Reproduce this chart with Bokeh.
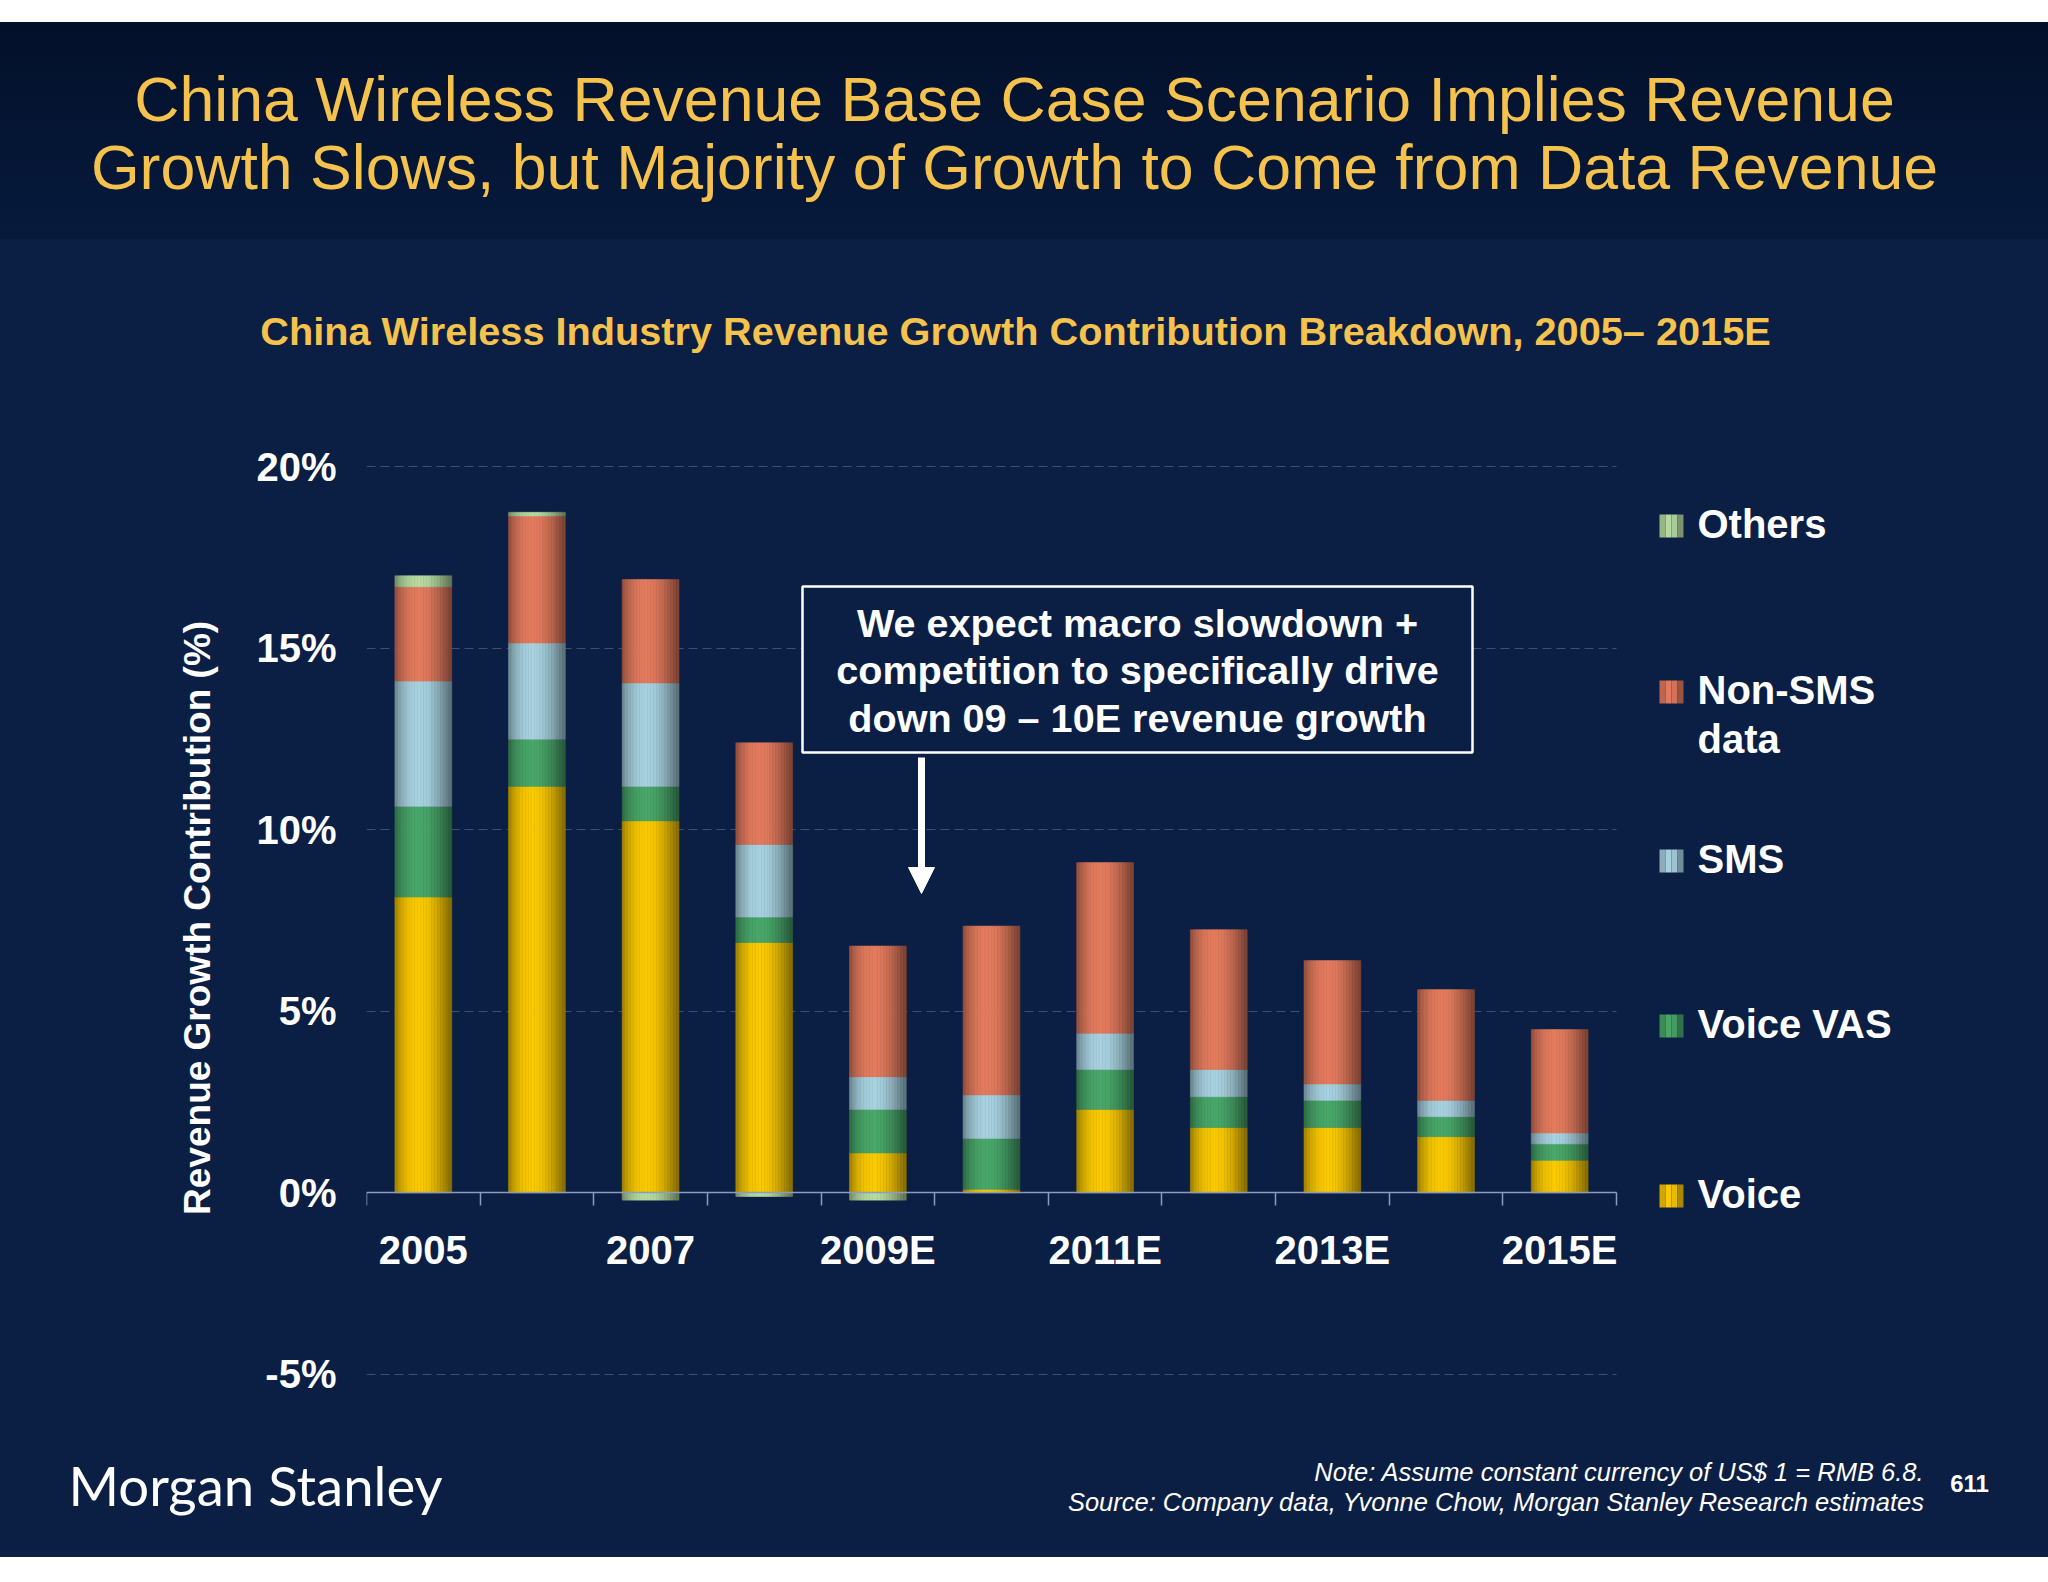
import numpy as np
from bokeh.plotting import figure
from bokeh.models import Range1d, FixedTicker, Label, BoxAnnotation, Arrow, NormalHead
from bokeh.embed import file_html
from bokeh.resources import INLINE

# ---------------- data ----------------
categories = ["2005", "2006", "2007", "2008", "2009E", "2010E",
              "2011E", "2012E", "2013E", "2014E", "2015E"]
voice     = [8.15, 11.2, 10.25, 6.9, 1.1, 0.1, 2.3, 1.8, 1.8, 1.55, 0.9]
voice_vas = [2.5, 1.3, 0.95, 0.7, 1.2, 1.4, 1.1, 0.85, 0.75, 0.55, 0.45]
sms       = [3.45, 2.65, 2.85, 2.0, 0.9, 1.2, 1.0, 0.75, 0.45, 0.45, 0.3]
non_sms   = [2.6, 3.5, 2.85, 2.8, 3.6, 4.65, 4.7, 3.85, 3.4, 3.05, 2.85]
others    = [0.3, 0.1, -0.2, -0.1, -0.2, 0.0, 0.0, 0.0, 0.0, 0.0, 0.0]

series_labels = ["Voice", "Voice VAS", "SMS", "Non-SMS\ndata", "Others"]
y_ticks = [-5, 0, 5, 10, 15, 20]

title_lines = ["China Wireless Revenue Base Case Scenario Implies Revenue",
               "Growth Slows, but Majority of Growth to Come from Data Revenue"]
subtitle = "China Wireless Industry Revenue Growth Contribution Breakdown, 2005\u2013 2015E"
y_label = "Revenue Growth Contribution (%)"
callout_lines = ["We expect macro slowdown +",
                 "competition to specifically drive",
                 "down 09 \u2013 10E revenue growth"]
note_lines = ["Note: Assume constant currency of US$ 1 = RMB 6.8.",
              "Source: Company data, Yvonne Chow, Morgan Stanley Research estimates"]
logo_text = "Morgan Stanley"
page_no = "611"

# ---------------- style ----------------
FONT = "Liberation Sans"
GOLD = "#f4c24d"
BG = "#0b1e44"
AXIS_C = "#8c9cbc"
GRID_C = "#3c4e74"
colors = ["#fccb00", "#4aa86a", "#a9d3e1", "#e57c5e", "#b7dca2"]

SHADE_T = [0.0, 0.1, 0.25, 0.42, 0.58, 0.75, 0.9, 1.0]
SHADE_F = [0.62, 0.8, 0.95, 1.0, 0.96, 0.82, 0.64, 0.52]


def shade(hex_color, f):
    rgb = [int(hex_color[i:i + 2], 16) for i in (1, 3, 5)]
    return "#%02x%02x%02x" % tuple(min(255, int(round(c * f))) for c in rgb)


W = 2048
H = 1582
BL, BT = 366, 412
PLOT_W = 1250           # width of the category area (0 .. n)
FH = 980
BB = H - BT - FH
Y0, Y1 = -5.5, 21.5
n = len(categories)
XS = PLOT_W / n
YS = FH / (Y1 - Y0)
X_END = (W - BL) / XS
BASE_SHIFT = 0.345      # label baseline correction, in em


def px_x(page_x):
    return (page_x - BL) / XS


def px_y(page_y):
    return Y1 - (page_y - BT) / YS


def text_y(baseline, fs):
    return px_y(baseline - BASE_SHIFT * fs)


p = figure(width=W, height=H, x_range=Range1d(0, X_END), y_range=Range1d(Y0, Y1),
           min_border_left=BL, min_border_right=0, min_border_top=BT,
           min_border_bottom=BB, toolbar_location=None, output_backend="svg",
           background_fill_color=BG, border_fill_color=None, outline_line_color=None,
           title=None)
p.styles = {"background": "linear-gradient(to bottom, #ffffff 0px, #ffffff 22px, "
                          "#03102a 22px, #071a3c 239px, #0b1e44 239px, #0b1e44 1557px, "
                          "#ffffff 1557px, #ffffff 1582px)"}

# ---------------- bars (cylinder shading built from thin strips) ----------------
x_center = np.arange(n) + 0.5
BW = 0.5
NS = 20
series = [np.array(voice), np.array(voice_vas), np.array(sms), np.array(non_sms),
          np.clip(np.array(others), 0, None)]
bottom = np.zeros(n)
segments = []
for vals, col in zip(series, colors):
    top = bottom + vals
    segments.append((bottom.copy(), top.copy(), col))
    bottom = top
neg = np.clip(np.array(others), None, 0)
segments.append((neg, np.zeros(n), colors[4]))

for b, t, col in segments:
    mask = np.abs(t - b) > 1e-9
    if not mask.any():
        continue
    for k in range(NS):
        frac = (k + 0.5) / NS
        c = shade(col, float(np.interp(frac, SHADE_T, SHADE_F)))
        xk = x_center[mask] - BW / 2 + (k + 0.5) * BW / NS
        p.vbar(x=xk, width=BW / NS, bottom=b[mask], top=t[mask],
               fill_color=c, line_color=c, line_width=0.6)

# ---------------- axes ----------------
xa = p.xaxis[0]
major = [i + 0.5 for i in range(0, n, 2)]
xa.ticker = FixedTicker(ticks=major, minor_ticks=list(range(n + 1)))
xa.major_label_overrides = {i + 0.5: categories[i] for i in range(0, n, 2)}
xa.fixed_location = 0
xa.bounds = (0, n)
xa.axis_line_color = AXIS_C
xa.axis_line_width = 1.5
xa.major_tick_line_color = None
xa.major_tick_out = 0
xa.major_tick_in = 0
xa.minor_tick_line_color = AXIS_C
xa.minor_tick_line_width = 1.5
xa.minor_tick_out = 13
xa.minor_tick_in = 0
xa.major_label_standoff = 22
xa.major_label_text_font = FONT
xa.major_label_text_font_size = "40px"
xa.major_label_text_font_style = "bold"
xa.major_label_text_color = "white"

ya = p.yaxis[0]
ya.ticker = FixedTicker(ticks=y_ticks, minor_ticks=[])
ya.major_label_overrides = {t: f"{t}%" for t in y_ticks}
ya.axis_line_color = None
ya.major_tick_line_color = None
ya.minor_tick_line_color = None
ya.major_tick_out = 0
ya.major_tick_in = 0
ya.major_label_standoff = 30
ya.major_label_text_font = FONT
ya.major_label_text_font_size = "40px"
ya.major_label_text_font_style = "bold"
ya.major_label_text_color = "white"
# trailing no-break spaces move the rotated label's visible text slightly down
ya.axis_label = y_label + "\u00a0\u00a0\u00a0"
ya.axis_label_text_font = FONT
ya.axis_label_text_font_size = "37px"
ya.axis_label_text_font_style = "bold"
ya.axis_label_text_color = "white"
ya.axis_label_standoff = 35

p.xgrid.visible = False
p.ygrid.ticker = FixedTicker(ticks=y_ticks, minor_ticks=[])
p.ygrid.grid_line_color = GRID_C
p.ygrid.grid_line_dash = "9 5"
p.ygrid.grid_line_width = 1.2
# gridlines stop at the end of the category area
p.add_layout(BoxAnnotation(left=n, fill_color=BG, fill_alpha=1, line_color=None,
                           level="underlay"))

# ---------------- texts in the "above" panel (drawn at data positions) ----------------
for txt, base in zip(title_lines, [120, 187.7]):
    p.add_layout(Label(x=px_x(1014), y=text_y(base, 62.6), text=txt, text_align="center",
                       text_baseline="alphabetic", text_font=FONT,
                       text_font_size="62.6px", text_color=GOLD), "above")
p.add_layout(Label(x=px_x(1015), y=text_y(344, 39.7), text=subtitle, text_align="center",
                   text_baseline="alphabetic", text_font=FONT, text_font_size="39.7px",
                   text_font_style="bold", text_color=GOLD), "above")
p.add_layout(Label(x=px_x(68), y=text_y(1503, 54.5), text=logo_text,
                   text_baseline="alphabetic", text_font="Lato", text_font_size="54.5px",
                   text_color="white"), "above")
for line, base in zip(note_lines, [1480, 1510]):
    p.add_layout(Label(x=px_x(1924), y=text_y(base, 25.5), text=line, text_align="right",
                       text_baseline="alphabetic", text_font=FONT,
                       text_font_size="25.5px", text_font_style="italic",
                       text_color="white"), "above")
p.add_layout(Label(x=px_x(1969), y=text_y(1491, 24), text=page_no, text_align="center",
                   text_baseline="alphabetic", text_font=FONT, text_font_size="24px",
                   text_font_style="bold", text_color="white"), "left")

# ---------------- legend (inside the frame, right of the bars) ----------------
leg_base = [1207, 1037, 872, 703, 537]
for lab, col, base in zip(series_labels, colors, leg_base):
    ns = 4
    for k in range(ns):
        frac = (k + 0.5) / ns
        c = shade(col, float(np.interp(frac, SHADE_T, SHADE_F)))
        p.add_layout(BoxAnnotation(left=px_x(1659 + k * 6), right=px_x(1659 + (k + 1) * 6),
                                   bottom=px_y(base), top=px_y(base - 23),
                                   fill_color=c, fill_alpha=1, line_color=None))
    for j, line in enumerate(lab.split("\n")):
        p.add_layout(Label(x=px_x(1697), y=text_y(base + 49.5 * j, 40), text=line,
                           text_baseline="alphabetic", text_font=FONT,
                           text_font_size="40px", text_font_style="bold",
                           text_color="white"))

# ---------------- callout ----------------
p.add_layout(BoxAnnotation(left=px_x(802), right=px_x(1472), top=px_y(586),
                           bottom=px_y(752), fill_color=BG, fill_alpha=1,
                           line_color="white", line_width=2.5, line_alpha=1))
for line, base in zip(callout_lines, [636, 683, 731]):
    p.add_layout(Label(x=px_x(1137), y=text_y(base, 39.6), text=line, text_align="center",
                       text_baseline="alphabetic", text_font=FONT,
                       text_font_size="39.6px", text_font_style="bold",
                       text_color="white"))
p.add_layout(Arrow(x_start=px_x(921), y_start=px_y(757), x_end=px_x(921), y_end=px_y(893),
                   line_color="white", line_width=7,
                   end=NormalHead(size=26, fill_color="white", line_color="white")))

open("out.html", "w").write(file_html(p, INLINE))
